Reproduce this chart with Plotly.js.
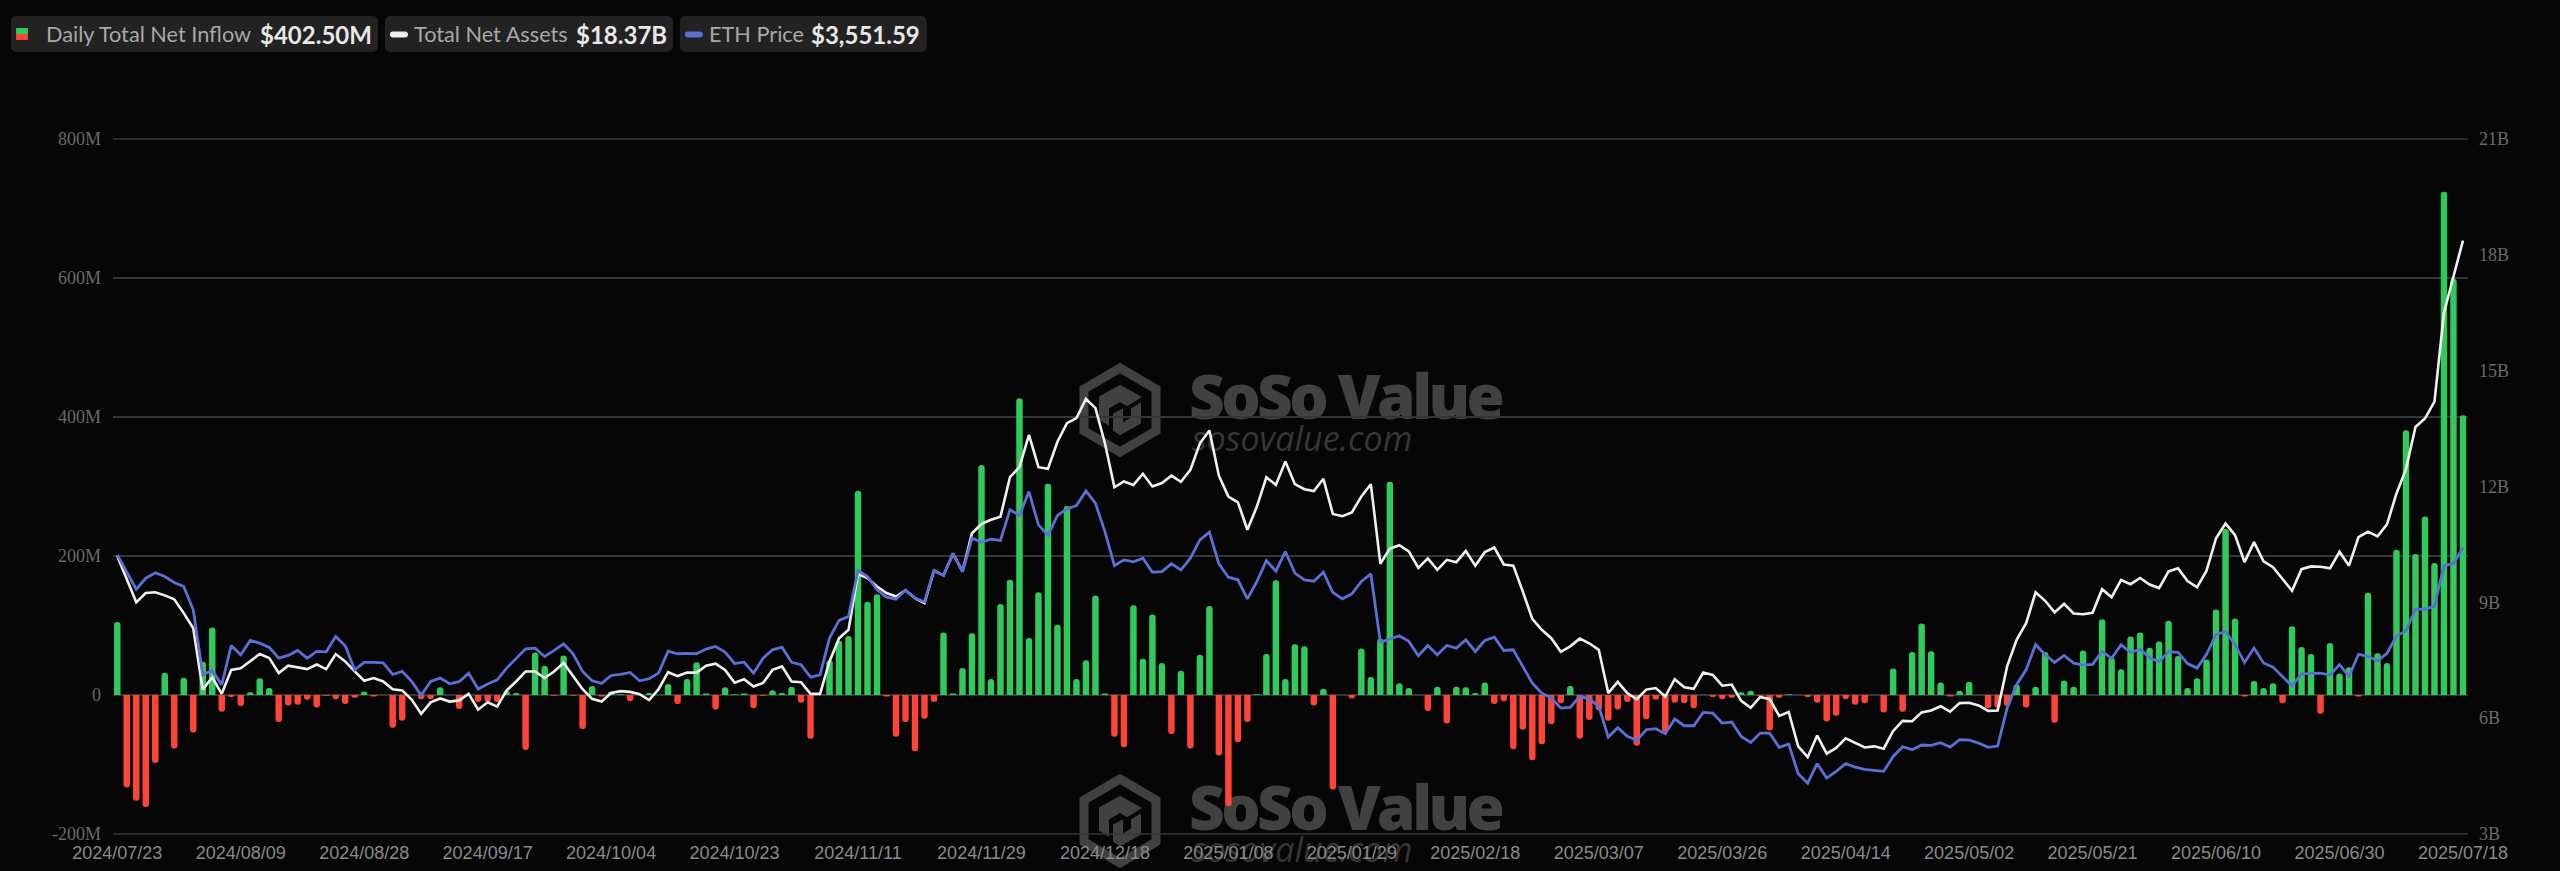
<!DOCTYPE html>
<html>
<head>
<meta charset="utf-8">
<script src="https://cdn.plot.ly/plotly-3.0.1.min.js"></script>
<style>
html,body{margin:0;padding:0;background:#060606;width:2560px;height:871px;overflow:hidden}
#wm{position:absolute;left:0;top:0;z-index:0}
#chart{position:absolute;left:0;top:0;width:2560px;height:871px;z-index:1}
</style>
</head>
<body>
<svg id="wm" width="2560" height="871" xmlns="http://www.w3.org/2000/svg">
  <defs>
    <g id="logo" fill="none" stroke="#414141" stroke-width="9" stroke-linejoin="miter">
      <path d="M40 4 L76 25 L76 67 L40 88 L4 67 L4 25 Z"/>
      <path d="M40 22 L60 33 L47 41 L40 37 L28 44 L28 60 L20 55 L20 33 Z" fill="#414141" stroke-width="2"/>
      <path d="M60 40 L60 59 L40 70 L34 66 L34 50 L42 46 L42 60 L52 54 L52 45 Z" fill="#414141" stroke-width="2"/>
    </g>
    <g id="mark">
      <use href="#logo" x="1080" y="364"/>
      <text x="1189" y="419" font-family="Open Sans" font-weight="800" font-size="62" letter-spacing="-3.6" fill="#414141">SoSo Value</text>
      <text x="1192" y="451" font-family="Open Sans" font-style="italic" font-size="34" fill="#363636">sosovalue.com</text>
    </g>
  </defs>
  <use href="#mark"/>
  <use href="#mark" y="411"/>
</svg>
<div id="chart"></div>
<script>
const dates = [
"2024/07/23","2024/07/24","2024/07/25","2024/07/26","2024/07/29","2024/07/30","2024/07/31",
"2024/08/01","2024/08/02","2024/08/05","2024/08/06","2024/08/07","2024/08/08","2024/08/09","2024/08/12","2024/08/13","2024/08/14","2024/08/15","2024/08/16","2024/08/19","2024/08/20","2024/08/21","2024/08/22","2024/08/23","2024/08/26","2024/08/27","2024/08/28","2024/08/29","2024/08/30",
"2024/09/03","2024/09/04","2024/09/05","2024/09/06","2024/09/09","2024/09/10","2024/09/11","2024/09/12","2024/09/13","2024/09/16","2024/09/17","2024/09/18","2024/09/19","2024/09/20","2024/09/23","2024/09/24","2024/09/25","2024/09/26","2024/09/27","2024/09/30",
"2024/10/01","2024/10/02","2024/10/03","2024/10/04","2024/10/07","2024/10/08","2024/10/09","2024/10/10","2024/10/11","2024/10/14","2024/10/15","2024/10/16","2024/10/17","2024/10/18","2024/10/21","2024/10/22","2024/10/23","2024/10/24","2024/10/25","2024/10/28","2024/10/29","2024/10/30","2024/10/31",
"2024/11/01","2024/11/04","2024/11/05","2024/11/06","2024/11/07","2024/11/08","2024/11/11","2024/11/12","2024/11/13","2024/11/14","2024/11/15","2024/11/18","2024/11/19","2024/11/20","2024/11/21","2024/11/22","2024/11/25","2024/11/26","2024/11/27","2024/11/29",
"2024/12/02","2024/12/03","2024/12/04","2024/12/05","2024/12/06","2024/12/09","2024/12/10","2024/12/11","2024/12/12","2024/12/13","2024/12/16","2024/12/17","2024/12/18","2024/12/19","2024/12/20","2024/12/23","2024/12/24","2024/12/26","2024/12/27","2024/12/30","2024/12/31",
"2025/01/02","2025/01/03","2025/01/06","2025/01/07","2025/01/08","2025/01/10","2025/01/13","2025/01/14","2025/01/15","2025/01/16","2025/01/17","2025/01/21","2025/01/22","2025/01/23","2025/01/24","2025/01/27","2025/01/28","2025/01/29","2025/01/30","2025/01/31",
"2025/02/03","2025/02/04","2025/02/05","2025/02/06","2025/02/07","2025/02/10","2025/02/11","2025/02/12","2025/02/13","2025/02/14","2025/02/18","2025/02/19","2025/02/20","2025/02/21","2025/02/24","2025/02/25","2025/02/26","2025/02/27","2025/02/28",
"2025/03/03","2025/03/04","2025/03/05","2025/03/06","2025/03/07","2025/03/10","2025/03/11","2025/03/12","2025/03/13","2025/03/14","2025/03/17","2025/03/18","2025/03/19","2025/03/20","2025/03/21","2025/03/24","2025/03/25","2025/03/26","2025/03/27","2025/03/28","2025/03/31",
"2025/04/01","2025/04/02","2025/04/03","2025/04/04","2025/04/07","2025/04/08","2025/04/09","2025/04/10","2025/04/11","2025/04/14","2025/04/15","2025/04/16","2025/04/17","2025/04/21","2025/04/22","2025/04/23","2025/04/24","2025/04/25","2025/04/28","2025/04/29","2025/04/30",
"2025/05/01","2025/05/02","2025/05/05","2025/05/06","2025/05/07","2025/05/08","2025/05/09","2025/05/12","2025/05/13","2025/05/14","2025/05/15","2025/05/16","2025/05/19","2025/05/20","2025/05/21","2025/05/22","2025/05/23","2025/05/27","2025/05/28","2025/05/29","2025/05/30",
"2025/06/02","2025/06/03","2025/06/04","2025/06/05","2025/06/06","2025/06/09","2025/06/10","2025/06/11","2025/06/12","2025/06/13","2025/06/16","2025/06/17","2025/06/18","2025/06/20","2025/06/23","2025/06/24","2025/06/25","2025/06/26","2025/06/27","2025/06/30",
"2025/07/01","2025/07/02","2025/07/03","2025/07/07","2025/07/08","2025/07/09","2025/07/10","2025/07/11","2025/07/14","2025/07/15","2025/07/16","2025/07/17","2025/07/18"];

// Daily total net inflow, $M
const netInflow = [
105,-133,-152,-161,-98,32,-77,25,-54,48,97,-24,-3,-16,4,24,10,-39,-15,-14,-7,-18,-1,-6,-13,-4,5,-2,0,-47,-37,0,-6,-6,11,
0,-20,0,-10,-10,-10,6,3,-79,61,42,-1,57,-1,-49,13,-2,5,1,-9,0,3,0,16,-13,23,47,2,-21,11,1,2,-19,-1,7,3,
12,-11,-63,0,50,78,85,294,134,145,-2,-60,-39,-81,-34,-10,90,2,39,89,331,23,131,166,427,82,148,304,101,272,23,50,143,2,-60,-75,
129,52,116,46,-56,35,-77,58,128,-87,-160,-68,-39,1,59,165,23,73,70,-15,9,-136,0,-5,67,26,81,307,17,10,0,-23,12,-41,12,11,
3,18,-13,-9,-78,-50,-94,-71,-42,-12,13,-63,-36,-22,-37,-21,-10,-73,-35,-7,-53,-11,-12,-19,0,-3,-6,-4,4,6,-1,-51,-4,1,0,-3,
-11,-38,-30,-6,-14,-12,0,-25,38,-24,62,103,63,18,-2,6,19,0,-19,-18,-16,15,-18,12,62,-40,21,12,64,0,109,54,37,84,90,
68,77,107,56,10,24,51,123,239,110,-2,20,10,17,-12,99,69,59,-27,75,31,40,-2,147,60,46,209,381,203,257,190,724,599,402.5];

// Total net assets, $B
const netAssets = [
10.20,9.58,9.00,9.24,9.26,9.18,9.08,8.72,8.33,6.74,7.06,6.63,7.25,7.29,7.47,7.66,7.56,7.17,7.36,7.31,7.27,7.39,7.27,7.66,7.47,7.21,6.97,7.04,6.95,6.75,6.72,6.48,6.11,6.41,6.51,6.43,
6.46,6.63,6.22,6.41,6.30,6.72,6.95,7.21,7.21,7.04,7.21,7.43,7.08,6.75,6.50,6.43,6.65,6.70,6.68,6.62,6.47,6.75,7.19,7.09,7.18,7.18,7.36,7.41,7.25,6.92,7.01,6.82,6.91,7.25,7.34,6.95,
6.93,6.63,6.63,7.47,8.07,8.29,9.73,9.63,9.41,9.24,9.15,9.31,9.11,8.98,9.82,9.70,10.26,9.80,10.79,11.03,11.14,11.22,12.24,12.50,13.34,12.50,12.46,13.16,13.64,13.77,14.27,14.03,13.12,11.98,12.13,12.04,
12.33,12.00,12.09,12.28,12.12,12.43,13.12,13.45,12.28,11.74,11.59,10.88,11.48,12.24,12.04,12.65,12.06,11.93,11.88,12.20,11.29,11.23,11.33,11.74,12.06,10.00,10.39,10.48,10.32,9.89,10.14,9.84,10.10,10.04,10.33,
9.95,10.30,10.42,9.98,9.95,9.28,8.57,8.29,8.07,7.72,7.86,8.06,7.94,7.77,6.65,6.94,6.65,6.49,6.74,6.78,6.56,7.01,6.80,6.76,7.18,7.12,6.84,6.87,6.45,6.27,6.55,6.49,6.06,6.16,5.27,4.99,
5.55,5.08,5.23,5.48,5.37,5.24,5.27,5.21,5.67,5.93,5.92,6.15,6.20,6.31,6.17,6.39,6.40,6.33,6.19,6.20,7.34,8.03,8.46,9.26,9.04,8.74,8.96,8.71,8.69,8.73,9.34,9.13,9.58,9.47,9.63,
9.46,9.37,9.80,9.88,9.55,9.39,9.82,10.66,11.04,10.74,10.04,10.56,10.06,9.91,9.60,9.30,9.86,9.93,9.92,9.88,10.31,9.95,10.69,10.83,10.71,11.02,11.82,12.45,13.54,13.76,14.20,16.50,17.44,18.37];

// ETH price, $
const ethPrice = [
3488,3332,3185,3282,3330,3297,3244,3209,3003,2429,2468,2341,2688,2606,2732,2709,2671,2576,2600,2644,2576,2635,2632,2768,2685,2473,2538,2538,2535,2432,2459,2370,2247,2370,2400,2350,
2368,2444,2303,2347,2385,2488,2576,2659,2665,2591,2644,2703,2615,2459,2376,2353,2423,2432,2450,2376,2394,2444,2638,2615,2618,2615,2656,2679,2629,2529,2541,2444,2576,2650,2673,2540,
2518,2409,2429,2753,2909,2944,3350,3297,3180,3115,3097,3177,3106,3074,3350,3306,3503,3338,3635,3600,3627,3615,3886,3836,4047,3753,3662,3836,3894,3924,4053,3944,3694,3394,3444,3427,
3459,3335,3341,3409,3356,3459,3621,3688,3409,3291,3268,3100,3253,3438,3344,3518,3327,3268,3256,3335,3156,3100,3144,3253,3321,2718,2744,2774,2724,2597,2688,2606,2688,2665,2738,
2635,2732,2762,2644,2650,2503,2356,2267,2223,2135,2141,2238,2217,2150,1879,1962,1885,1850,1944,1953,1909,2038,1979,1979,2097,2091,2003,2012,1885,1832,1914,1914,1788,1817,1556,1473,
1644,1517,1576,1644,1614,1594,1588,1576,1708,1794,1767,1809,1806,1829,1791,1856,1853,1826,1788,1800,2135,2341,2473,2697,2606,2538,2600,2532,2515,2521,2635,2574,2694,2626,2656,
2579,2543,2634,2628,2528,2488,2610,2786,2811,2695,2537,2665,2534,2497,2415,2330,2437,2440,2443,2427,2519,2415,2610,2592,2552,2619,2771,2817,3008,3008,3035,3394,3410,3551.59];

const xTickLabels = ["2024/07/23","2024/08/09","2024/08/28","2024/09/17","2024/10/04","2024/10/23","2024/11/11","2024/11/29","2024/12/18","2025/01/08","2025/01/29","2025/02/18","2025/03/07","2025/03/26","2025/04/14","2025/05/02","2025/05/21","2025/06/10","2025/06/30","2025/07/18"];
const leftTickVals = [-200,0,200,400,600,800];
const leftTickText = ["-200M","0","200M","400M","600M","800M"];
const rightTickVals = [3,6,9,12,15,18,21];
const rightTickText = ["3B","6B","9B","12B","15B","18B","21B"];

const GREEN = "#32C95C", RED = "#FF4438", WHITE = "#F0F0EE", BLUE = "#5B6FD4", GRID = "#363636";

const traces = [
  {type:"bar", name:"Daily Total Net Inflow", x:dates, y:netInflow, width:0.68,
   marker:{color:netInflow.map(v => v >= 0 ? GREEN : RED), cornerradius:3, line:{width:0}}, hoverinfo:"skip"},
  {type:"scatter", mode:"lines", name:"Total Net Assets", x:dates, y:netAssets, yaxis:"y2",
   line:{color:WHITE, width:2.6, shape:"linear"}, hoverinfo:"skip"},
  {type:"scatter", mode:"lines", name:"ETH Price", x:dates, y:ethPrice, yaxis:"y3",
   line:{color:BLUE, width:2.8, shape:"linear"}, hoverinfo:"skip"}
];

// pixel helpers for the header chips
const L = 113, R = 2468.5, T = 139, B = 834.3;
const px = x => (x - L) / (R - L);
const py = y => 1 - (y - T) / (B - T);
function roundRect(x0, y0, x1, y1, r) {
  const p = (x, y) => px(x) + "," + py(y);
  return "M" + p(x0 + r, y0) + " L" + p(x1 - r, y0) + " Q" + p(x1, y0) + " " + p(x1, y0 + r) +
         " L" + p(x1, y1 - r) + " Q" + p(x1, y1) + " " + p(x1 - r, y1) +
         " L" + p(x0 + r, y1) + " Q" + p(x0, y1) + " " + p(x0, y1 - r) +
         " L" + p(x0, y0 + r) + " Q" + p(x0, y0) + " " + p(x0 + r, y0) + " Z";
}
const chip = (path, color) => ({type:"path", path, xref:"paper", yref:"paper", fillcolor:color, line:{width:0}, layer:"above"});
const edgeLine = y => ({type:"line", xref:"paper", yref:"paper", x0:0, x1:1, y0:y, y1:y, line:{color:GRID, width:1.5}, layer:"below"});
const shapes = [
  edgeLine(0), edgeLine(1),
  chip(roundRect(11,16,378,52,6), "#222222"),
  chip(roundRect(385,16,673,52,6), "#222222"),
  chip(roundRect(680,16,927,52,6), "#222222"),
  chip(roundRect(16,28,28,34.5,1), GREEN),
  chip(roundRect(16,34,28,40,1), RED),
  chip(roundRect(390,31.5,408,37.5,3), WHITE),
  chip(roundRect(685,31.5,703,37.5,3), BLUE)
];
const label = (x, text) => ({x:px(x), y:py(34), xref:"paper", yref:"paper", xanchor:"left", yanchor:"middle", showarrow:false, text,
  font:{family:"Lato", size:21.7, color:"#A8A8A8"}});
const value = (x, text) => ({x:px(x), y:py(34), xref:"paper", yref:"paper", xanchor:"left", yanchor:"middle", showarrow:false, text,
  font:{family:"Lato", size:24, weight:700, color:"#E8E8E8"}});
const annotations = [
  label(44,"Daily Total Net Inflow"), value(258,"$402.50M"),
  label(412,"Total Net Assets"), value(574,"$18.37B"),
  label(707,"ETH Price"), value(809,"$3,551.59")
];

const layout = {
  width:2560, height:871,
  margin:{l:L, r:2560-R, t:T, b:871-B, pad:0},
  paper_bgcolor:"rgba(0,0,0,0)", plot_bgcolor:"rgba(0,0,0,0)",
  showlegend:false, bargap:0.32, barmode:"overlay",
  xaxis:{type:"category", categoryorder:"array", categoryarray:dates, range:[-0.45,247.53], fixedrange:true,
    tickmode:"array", tickvals:xTickLabels, ticktext:xTickLabels, tickangle:0, ticks:"", showgrid:false, zeroline:false,
    showline:false,
    ticklabelstandoff:6, tickfont:{family:"Liberation Sans", size:18, color:"#8A8A8A"}},
  yaxis:{range:[-200,800], tickmode:"array", tickvals:leftTickVals, ticktext:leftTickText, fixedrange:true,
    showgrid:true, gridcolor:GRID, gridwidth:1.5, zeroline:false, showline:false, ticks:"",
    ticklabelstandoff:11, tickfont:{family:"Liberation Serif", size:18, color:"#6A6A6A"}},
  yaxis2:{range:[3,21], overlaying:"y", side:"right", tickmode:"array", tickvals:rightTickVals, ticktext:rightTickText, fixedrange:true,
    showgrid:false, zeroline:false, showline:false, ticks:"",
    ticklabelstandoff:10, tickfont:{family:"Liberation Serif", size:18, color:"#6A6A6A"}},
  yaxis3:{range:[1023,7161], overlaying:"y", side:"right", visible:false, fixedrange:true},
  shapes, annotations
};
Plotly.newPlot("chart", traces, layout, {displayModeBar:false, staticPlot:true});
</script>
</body>
</html>
